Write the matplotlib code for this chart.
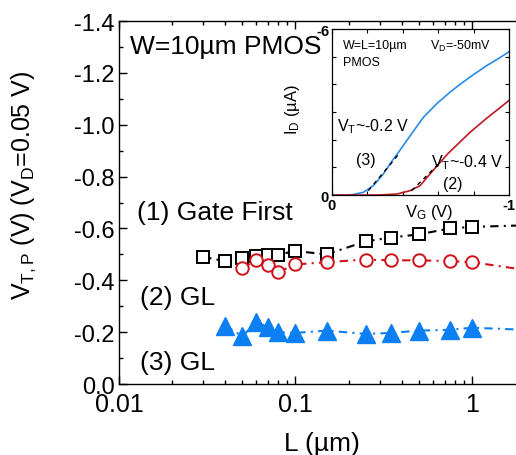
import numpy as np
import matplotlib
matplotlib.use("Agg")
import matplotlib.pyplot as plt
from matplotlib.ticker import FixedLocator, FuncFormatter, MultipleLocator

plt.rcParams["font.family"] = ["Liberation Sans", "DejaVu Sans"]
plt.rcParams["mathtext.fontset"] = "custom"
plt.rcParams["mathtext.rm"] = "Liberation Sans"
plt.rcParams["mathtext.it"] = "Liberation Sans:italic"
plt.rcParams["mathtext.bf"] = "Liberation Sans:bold"

# main plot: threshold voltage vs gate length
L_gf = [0.03, 0.04, 0.05, 0.06, 0.07, 0.08, 0.1, 0.15, 0.25, 0.35, 0.5, 0.75, 1.0, 2.0]
vt_gf = [-0.49, -0.474, -0.486, -0.494, -0.499, -0.499, -0.513, -0.50, -0.55, -0.565, -0.577, -0.60, -0.606, -0.612]

L_gl2 = [0.05, 0.06, 0.07, 0.08, 0.1, 0.15, 0.25, 0.35, 0.5, 0.75, 1.0, 2.0]
vt_gl2 = [-0.447, -0.477, -0.46, -0.432, -0.461, -0.47, -0.48, -0.477, -0.477, -0.474, -0.47, -0.44]

L_gl3 = [0.04, 0.05, 0.06, 0.07, 0.08, 0.1, 0.15, 0.25, 0.35, 0.5, 0.75, 1.0, 2.0]
vt_gl3 = [-0.225, -0.184, -0.239, -0.219, -0.20, -0.197, -0.206, -0.193, -0.197, -0.206, -0.209, -0.217, -0.209]

# inset: Id-Vg curves
vg_b = [0, -0.08, -0.12, -0.178, -0.234, -0.29, -0.347, -0.375, -0.441, -0.516, -0.591,
        -0.666, -0.722, -0.779, -0.873, -0.948, -1.0]
id_b = [0, -0.003, -0.02, -0.1, -0.34, -0.76, -1.3, -1.54, -2.14, -2.81, -3.3,
        -3.72, -4.0, -4.27, -4.68, -4.97, -5.19]
vg_r = [0, -0.2, -0.27, -0.366, -0.441, -0.497, -0.553, -0.61, -0.656, -0.779, -0.873, -0.948, -1.0]
id_r = [0, -0.001, -0.005, -0.036, -0.16, -0.34, -0.76, -1.18, -1.51, -2.27, -2.78, -3.16, -3.43]
tan_b_vg = [-0.206, -0.385]
tan_b_id = [-0.16, -1.54]
tan_r_vg = [-0.45, -0.61]
tan_r_id = [-0.16, -1.18]

black = "black"
red = "#d0121b"
blue = "#0c7ff2"

fig = plt.figure(figsize=(5.16, 4.56), dpi=100)
ax = fig.add_axes([0.2306, 0.1557, 0.787, 0.796])

dash = (4, 2.5, 1, 2.5)
ax.plot(L_gf, vt_gf, color=black, lw=1.5, dashes=dash, marker="s", ms=8,
        mfc="white", mec=black, mew=1.4, markevery=list(range(len(L_gf) - 1)))
ax.plot(L_gl2, vt_gl2, color=red, lw=1.5, dashes=dash, marker="o", ms=9,
        mfc="white", mec=red, mew=1.4, markevery=list(range(len(L_gl2) - 1)))
ax.plot(L_gl3, vt_gl3, color=blue, lw=1.5, dashes=dash, marker="^", ms=13,
        mfc=blue, mec=blue, markevery=list(range(len(L_gl3) - 1)))

ax.set_xscale("log")
ax.set_xlim(0.01, 2.0)
ax.set_ylim(0, -1.4)
ax.xaxis.set_major_formatter(FuncFormatter(lambda v, p: "%g" % v))
ax.yaxis.set_major_locator(MultipleLocator(0.2))
ax.yaxis.set_minor_locator(MultipleLocator(0.1))
ax.yaxis.set_major_formatter(FuncFormatter(lambda v, p: "%.1f" % v))
ax.tick_params(which="both", direction="in", top=True, right=False, width=1)
ax.tick_params(which="major", length=6)
ax.tick_params(which="minor", length=3)
ax.tick_params(axis="x", labelsize=18, pad=6)
ax.tick_params(axis="y", labelsize=17, pad=3)
for s in ax.spines.values():
    s.set_linewidth(1)

ax.set_xlabel("L (µm)", fontsize=19)
ax.xaxis.set_label_coords(0.5, -0.13)
ax.set_ylabel(r"$\mathregular{V_{T,P}}$ (V) ($\mathregular{V_D}$=0.05 V)", fontsize=18)
ax.yaxis.set_label_coords(-0.2, 0.55)

ax.text(0.027, 0.931, "W=10µm PMOS", transform=ax.transAxes, fontsize=19, va="center")
ax.text(0.044, 0.474, "(1) Gate First", transform=ax.transAxes, fontsize=19, va="center")
ax.text(0.052, 0.24, "(2) GL", transform=ax.transAxes, fontsize=19, va="center")
ax.text(0.052, 0.061, "(3) GL", transform=ax.transAxes, fontsize=19, va="center")

# inset
ins = fig.add_axes([0.643, 0.570, 0.344, 0.364])
ins.plot(vg_b, id_b, color="#2a8be8", lw=1.2)
ins.plot(vg_r, id_r, color="#c01820", lw=1.2)
ins.plot(tan_b_vg, tan_b_id, color="black", lw=1, dashes=(3, 3))
ins.plot(tan_r_vg, tan_r_id, color="black", lw=1, dashes=(3, 3))
ins.set_xlim(0, -1)
ins.set_ylim(0, -6)
ins.xaxis.set_major_locator(FixedLocator([0, -0.2, -0.4, -0.6, -0.8, -1.0]))
ins.yaxis.set_major_locator(FixedLocator([0, -1, -2, -3, -4, -5, -6]))
ins.xaxis.set_major_formatter(FuncFormatter(lambda v, p: "%g" % v if abs(v) < 1e-9 or abs(v + 1) < 1e-9 else ""))
ins.yaxis.set_major_formatter(FuncFormatter(lambda v, p: "%g" % v if abs(v) < 1e-9 or abs(v + 6) < 1e-9 else ""))
ins.tick_params(which="both", direction="in", top=True, right=True, length=3, width=0.8,
                labelsize=10.5, pad=2)
for lab in ins.get_xticklabels() + ins.get_yticklabels():
    lab.set_fontweight("bold")
for s in ins.spines.values():
    s.set_linewidth(0.9)
ins.set_xlabel(r"$\mathregular{V_G}$ (V)", fontsize=12)
ins.xaxis.set_label_coords(0.55, -0.04)
ins.set_ylabel(r"$\mathregular{I_D}$ (µA)", fontsize=12)
ins.yaxis.set_label_coords(-0.17, 0.52)

ins.text(0.063, 0.904, "W=L=10µm", transform=ins.transAxes, fontsize=9, va="center")
ins.text(0.063, 0.803, "PMOS", transform=ins.transAxes, fontsize=9, va="center")
ins.text(0.555, 0.904, r"$\mathregular{V_D}$=-50mV", transform=ins.transAxes, fontsize=9, va="center")
ins.text(0.03, 0.416, r"$\mathregular{V_T}$~-0.2 V", transform=ins.transAxes, fontsize=11.5, va="center")
ins.text(0.134, 0.217, "(3)", transform=ins.transAxes, fontsize=11.5, va="center")
ins.text(0.56, 0.199, r"$\mathregular{V_T}$~-0.4 V", transform=ins.transAxes, fontsize=11.5, va="center")
ins.text(0.625, 0.072, "(2)", transform=ins.transAxes, fontsize=11.5, va="center")

fig.savefig("out.png", dpi=100)
